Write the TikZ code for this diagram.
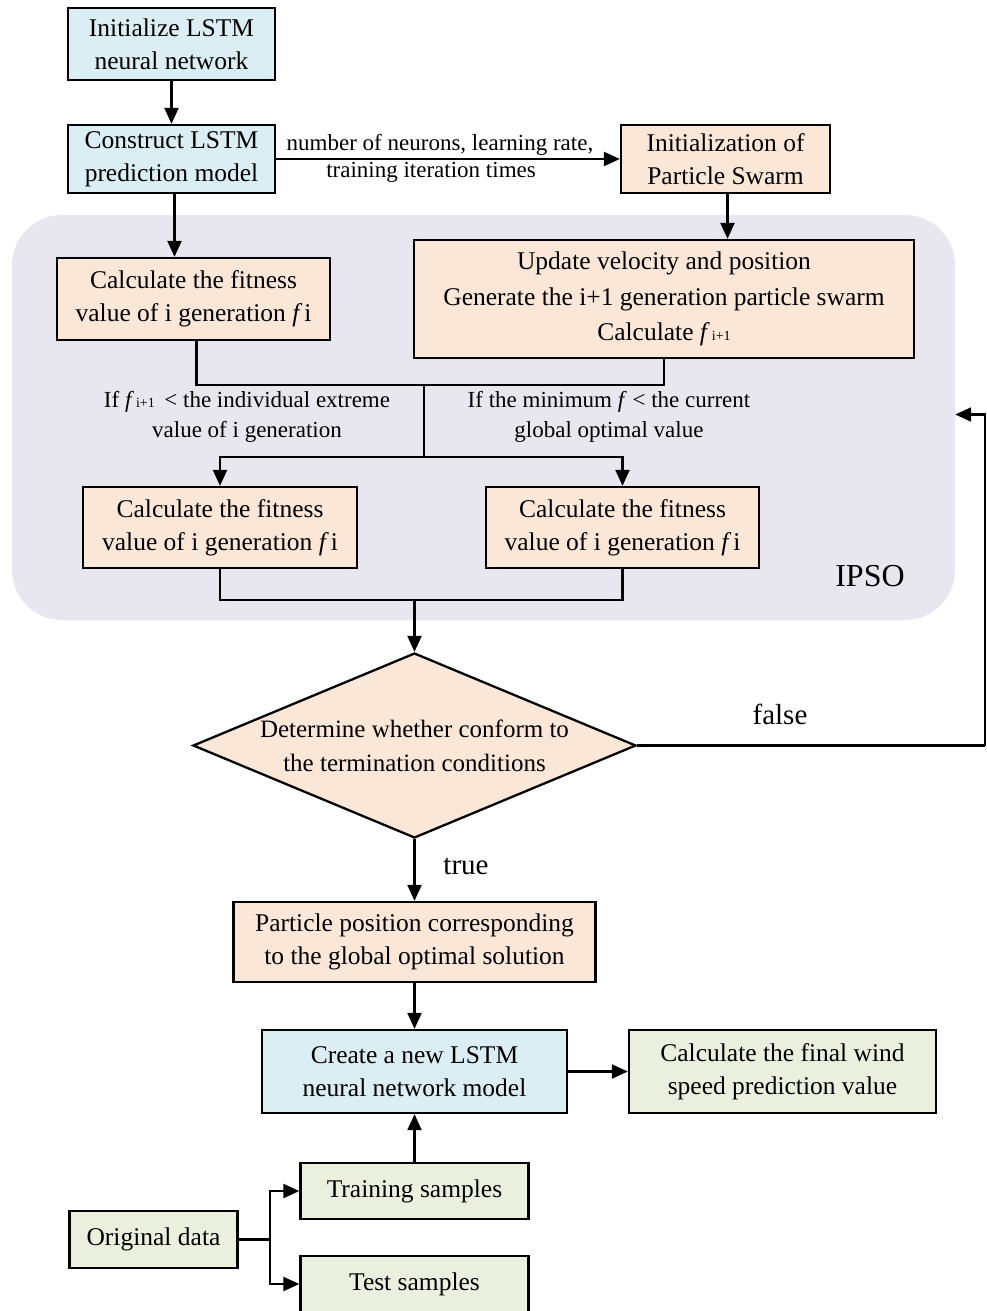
\documentclass[tikz,border=0pt]{standalone}
\usepackage{fontspec}
\setmainfont{Liberation Serif}
\usetikzlibrary{arrows.meta,shapes.geometric}
\definecolor{bluef}{RGB}{219,238,244}
\definecolor{peach}{RGB}{251,231,216}
\definecolor{greenf}{RGB}{235,240,222}
\definecolor{ipsof}{RGB}{232,231,240}
\newcommand{\fsub}[1]{\textit{f}\kern2pt{\fontsize{14}{14}\selectfont #1}}
\tikzset{
 box/.style={draw=black, line width=2.3pt, inner sep=0pt, align=center, font=\fontsize{25.5}{33}\selectfont},
 bluebox/.style={box, fill=bluef},
 peachbox/.style={box, fill=peach},
 greenbox/.style={box, fill=greenf},
 conn/.style={line width=2.2pt},
 arr/.style={conn, -{Triangle[length=16pt,width=14pt]}},
 lbl/.style={align=center, inner sep=0pt, font=\fontsize{23}{30}\selectfont},
 biglbl/.style={inner sep=0pt, font=\fontsize{29}{30}\selectfont},
}
\begin{document}
\begin{tikzpicture}[x=1pt,y=-1pt]
\useasboundingbox (0,0) rectangle (987,1311);
\fill[white] (0,0) rectangle (987,1311);
% IPSO region
\node (ipso) [fill=ipsof, rounded corners=50pt, minimum width=943pt, minimum height=405pt, inner sep=0pt] at (483.5,417.5) {};
\node (ipsolbl) [inner sep=0pt, font=\fontsize{32}{32}\selectfont] at (870,576) {IPSO};
% boxes
\node (b1) [bluebox, minimum width=207pt, minimum height=72pt] at (171.5,44) {Initialize LSTM\\neural network};
\node (b2) [bluebox, minimum width=207pt, minimum height=68pt] at (171.5,159) {Construct LSTM\\prediction model};
\node (b3) [peachbox, minimum width=209pt, minimum height=68pt] at (725.5,159) {Initialization of\\Particle Swarm};
\node (f1) [peachbox, minimum width=273pt, minimum height=82pt] at (193.5,299) {Calculate the fitness\\value of i generation \textit{f}\kern2pt i};
\node (upd) [peachbox, minimum width=500pt, minimum height=118pt, font=\fontsize{25.5}{35.5}\selectfont] at (664,299) {Update velocity and position\\Generate the i+1 generation particle swarm\\Calculate \fsub{i+1}};
\node (c1) [peachbox, minimum width=274pt, minimum height=81pt] at (220,527.5) {Calculate the fitness\\value of i generation \textit{f}\kern2pt i};
\node (c2) [peachbox, minimum width=273pt, minimum height=81pt] at (622.5,527.5) {Calculate the fitness\\value of i generation \textit{f}\kern2pt i};
\node (dia) [diamond, draw=black, line width=2.3pt, fill=peach, minimum width=443pt, minimum height=185pt, inner sep=0pt] at (414.5,745.5) {};
\node (diat) [box, draw=none, font=\fontsize{25}{34}\selectfont] at (dia.center) {Determine whether conform to\\the termination conditions};
\node (p) [peachbox, minimum width=362pt, minimum height=80pt] at (414.5,942) {Particle position corresponding\\to the global optimal solution};
\node (c9) [bluebox, minimum width=305pt, minimum height=83pt] at (414.5,1071.5) {Create a new LSTM\\neural network model};
\node (fin) [greenbox, minimum width=307pt, minimum height=83pt] at (782.5,1071.5) {Calculate the final wind\\speed prediction value};
\node (tr) [greenbox, minimum width=228pt, minimum height=56pt] at (414.5,1191) {Training samples};
\node (od) [greenbox, minimum width=168pt, minimum height=57pt] at (153.5,1239.5) {Original data};
\node (ts) [greenbox, minimum width=228pt, minimum height=56pt] at (414.5,1284) {Test samples};
% labels
\node (lp1) [lbl] at (440,145) {number of neurons, learning rate,};
\node (lp2) [lbl] at (431,172) {training iteration times};
\node (l1) [lbl] at (247,417) {If \fsub{i+1} \,< the individual extreme\\value of i generation};
\node (l2) [lbl] at (609,417) {If the minimum \textit{f} < the current\\global optimal value};
\node (lf) [biglbl] at (780,714) {false};
\node (lt) [biglbl] at (466,866) {true};
% coordinates
\coordinate (m1) at (424,385);
\coordinate (m2) at (424,457);
\coordinate (m3) at (414.5,600);
\coordinate (fc) at (985,745.5);
\coordinate (sp) at (270,1239.5);
% connectors
\draw[arr] (b1) -- (b2);
\draw[arr] (b2) -- (b3);
\draw[arr] ([xshift=3pt]b2.south) -- ([xshift=3pt]b2.south |- f1.north);
\draw[arr] ([xshift=2pt]b3.south) -- ([xshift=2pt]b3.south |- upd.north);
\draw[conn] ([xshift=3pt]f1.south) |- (m1);
\draw[conn] (upd.south) |- (m1);
\draw[conn] (m1) -- (m2);
\draw[arr] (m2) -| (c1.north);
\draw[arr] (m2) -| (c2.north);
\draw[conn] (c1.south) |- (m3);
\draw[conn] (c2.south) |- (m3);
\draw[arr] (m3) -- (dia.north);
\draw[conn] (dia.east) -- (fc);
\draw[arr] (fc) |- ([yshift=3pt]ipso.east);
\draw[arr] (dia.south) -- (p.north);
\draw[arr] (p) -- (c9);
\draw[arr] (c9) -- (fin);
\draw[arr] (tr) -- (c9);
\draw[conn] (od.east) -- (sp);
\draw[arr] (sp) |- (tr.west);
\draw[arr] (sp) |- (ts.west);
\end{tikzpicture}
\end{document}
